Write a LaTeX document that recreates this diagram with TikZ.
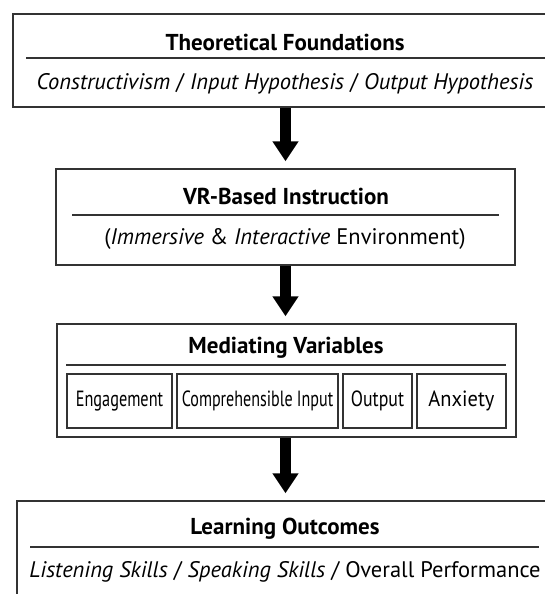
\documentclass[tikz,border=0pt]{standalone}
\usepackage{fontspec}
\setmainfont{PT Sans}
\usetikzlibrary{arrows.meta}

\newcommand{\narrow}[2][0.74]{\scalebox{#1}[1]{#2}}

\tikzset{
    box/.style={draw=black!80, line width=1.5pt, shape=rectangle, inner sep=0pt},
    rule/.style={draw=black!80, line width=1.5pt},
    heading/.style={font=\fontsize{23}{27}\selectfont\bfseries},
    subline/.style={font=\fontsize{22.5}{27}\selectfont},
    varbox/.style={box, minimum height=54pt, font=\fontsize{22}{26}\selectfont},
    flow/.style={line width=11pt, -{Triangle[width=25pt,length=20pt]}, shorten >=7pt}
}

\begin{document}
\begin{tikzpicture}[x=1pt, y=-1pt]
    \useasboundingbox (0,0) rectangle (545,594);
    \clip (0,0) rectangle (545,594);

    % boxes
    \draw (285,60.5) node [box, minimum width=544pt, minimum height=93pt] (found) {} ;
    \draw (285.5,217) node [box, minimum width=459pt, minimum height=96pt] (vr) {} ;
    \draw (286.5,380.5) node [box, minimum width=459pt, minimum height=113pt] (med) {} ;
    \draw (285,570.5) node [box, minimum width=536pt, minimum height=139pt] (out) {} ;

    % texts
    \draw (285,42) node [heading] (foundtitle) {Theoretical Foundations} ;
    \draw (285,84) node [subline] (foundsub) {\textit{Constructivism} / \textit{Input Hypothesis} / \textit{Output Hypothesis}} ;
    \draw (286,196) node [heading] (vrtitle) {VR-Based Instruction} ;
    \draw (285,239) node [subline] (vrsub) {(\textit{Immersive} \& \textit{Interactive} Environment)} ;
    \draw (286,348) node [heading] (medtitle) {Mediating Variables} ;
    \draw (285,529) node [heading] (outtitle) {Learning Outcomes} ;
    \draw (285,572) node [subline] (outsub) {\textit{Listening Skills} / \textit{Speaking Skills} / Overall Performance} ;

    % rules under the headings
    \draw[rule] (26,58) -- (560,58);
    \draw[rule] (72,215) -- (499,215);
    \draw[rule] (66,365) -- (506,365);
    \draw[rule] (30,547) -- (539,547);

    % mediating variables
    \draw (119.5,401) node [varbox, minimum width=105pt] (engage) {\narrow{Engagement}} ;
    \draw (257.5,401) node [varbox, minimum width=161pt] (input) {\narrow[0.73]{Comprehensible Input}} ;
    \draw (377.5,401) node [varbox, minimum width=69pt] (output) {\narrow[0.81]{Output}} ;
    \draw (461.5,401) node [varbox, minimum width=89pt] (anxiety) {\narrow[0.93]{Anxiety}} ;

    % arrows
    \draw[flow] (found.south -| vr) -- (vr.north);
    \draw[flow] (vr.south) -- (vr.south |- med.north);
    \draw[flow] (med.south -| vr) -- (vr |- out.north);
\end{tikzpicture}
\end{document}
